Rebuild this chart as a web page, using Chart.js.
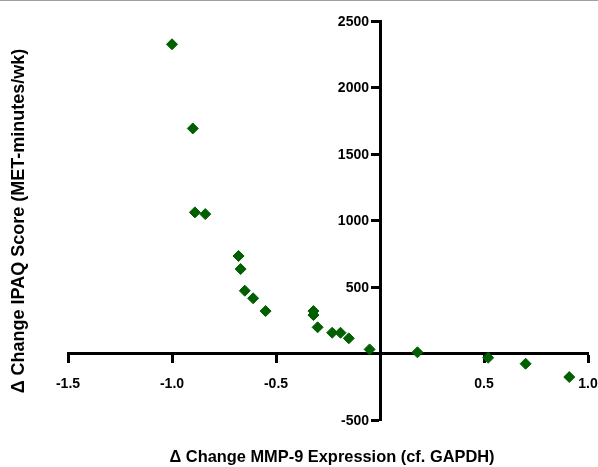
<!DOCTYPE html>
<html>
<head>
<meta charset="utf-8">
<script src="https://cdn.jsdelivr.net/npm/chart.js@4/dist/chart.umd.min.js"></script>
<style>
html,body{margin:0;padding:0;background:#fff;}
#wrap{width:598px;height:467px;position:relative;}
</style>
</head>
<body>
<div id="wrap"><canvas id="c" width="598" height="467"></canvas></div>
<script>
const mmp9Change = [-1.00, -0.90, -0.89, -0.84, -0.68, -0.67, -0.65, -0.61, -0.55, -0.32, -0.32, -0.30, -0.23, -0.19, -0.15, -0.05, 0.18, 0.52, 0.70, 0.91];
const ipaqChange = [2325, 1692, 1061, 1048, 733, 635, 472, 415, 319, 319, 289, 197, 156, 156, 114, 31, 9, -32, -77, -177];
const xTitle = 'Δ Change MMP-9 Expression (cf. GAPDH)';
const yTitle = 'Δ Change IPAQ Score (MET-minutes/wk)';
const xRange = [-1.5, 1.0];
const yRange = [-500, 2500];

const points = mmp9Change.map((x, i) => ({x: x, y: ipaqChange[i]}));
const tickFont = 'bold 14px "Liberation Sans", Arial, sans-serif';

const titlePlugin = {
  id: 'titles',
  afterDraw(chart) {
    const ctx = chart.ctx;
    const ca = chart.chartArea;
    ctx.save();
    ctx.fillStyle = '#a0a0a0';
    ctx.fillRect(0, 0, chart.width, 1);
    // y tick labels, placed left of the y axis tick marks
    const ys = chart.scales.y;
    const axisX = chart.scales.x.getPixelForValue(0);
    ctx.fillStyle = '#000';
    ctx.font = tickFont;
    ctx.textAlign = 'right';
    ctx.textBaseline = 'middle';
    ys.ticks.forEach((t) => {
      if (t.value === 0) return;
      ctx.fillText(String(t.value), axisX - 11, ys.getPixelForValue(t.value) + 1);
    });
    // axis titles
    ctx.textAlign = 'center';
    ctx.font = 'bold 16.4px "Liberation Sans", Arial, sans-serif';
    ctx.fillText(xTitle, (ca.left + ca.right) / 2 + 4, 457);
    ctx.font = 'bold 18px "Liberation Sans", Arial, sans-serif';
    ctx.translate(19, 221);
    ctx.rotate(-Math.PI / 2);
    ctx.fillText(yTitle, 0, 0);
    ctx.restore();
  }
};

const zeroPad = (scale) => {
  scale.paddingLeft = 0; scale.paddingRight = 0;
  scale.paddingTop = 0; scale.paddingBottom = 0;
};

new Chart(document.getElementById('c'), {
  type: 'scatter',
  data: {
    datasets: [{
      data: points,
      pointStyle: 'rectRot',
      pointRadius: 5.5,
      pointHoverRadius: 5.5,
      backgroundColor: '#006000',
      borderColor: '#006000',
      borderWidth: 1
    }]
  },
  options: {
    responsive: false,
    animation: false,
    devicePixelRatio: 1,
    layout: {padding: {left: 68, right: 10, top: 21, bottom: 47}},
    plugins: {legend: {display: false}, tooltip: {enabled: false}},
    scales: {
      x: {
        type: 'linear',
        min: xRange[0], max: xRange[1],
        position: {y: 0},
        afterFit: zeroPad,
        border: {display: true, color: '#000', width: 3},
        grid: {display: true, drawOnChartArea: false, drawTicks: true, tickLength: 8, tickWidth: 3, tickColor: '#000'},
        ticks: {
          stepSize: 0.5,
          padding: 14,
          color: '#000',
          font: {family: '"Liberation Sans", Arial, sans-serif', size: 14, weight: 'bold'},
          callback: (v) => Math.abs(v) < 1e-9 ? '' : Number(v).toFixed(1)
        }
      },
      y: {
        type: 'linear',
        min: yRange[0], max: yRange[1],
        position: {x: 0},
        afterFit: zeroPad,
        border: {display: true, color: '#000', width: 3},
        grid: {display: true, drawOnChartArea: false, drawTicks: true, tickLength: 8, tickWidth: 3, tickColor: '#000'},
        ticks: {
          display: false,
          stepSize: 500
        }
      }
    }
  },
  plugins: [titlePlugin]
});
</script>
</body>
</html>
